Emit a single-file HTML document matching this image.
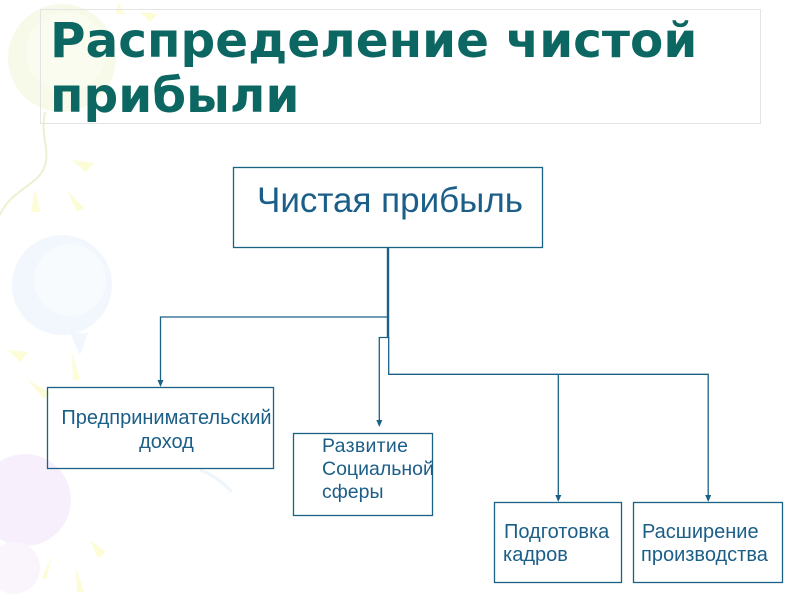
<!DOCTYPE html>
<html>
<head>
<meta charset="utf-8">
<style>
html,body{margin:0;padding:0;background:#fff;}
body{width:800px;height:600px;overflow:hidden;position:relative;}
svg{position:absolute;left:0;top:0;}
</style>
</head>
<body>
<svg width="800" height="600" viewBox="0 0 800 600" xmlns="http://www.w3.org/2000/svg">
  <!-- faint background decorations -->
  <g>
    <!-- yellow-green balloon -->
    <circle cx="62" cy="58" r="54" fill="#f7fae8"/>
    <circle cx="66" cy="52" r="40" fill="#fafcf0"/>
    <path d="M45 112 C40 135 50 150 45 165 C40 185 10 190 0 215" fill="none" stroke="#eaf2d0" stroke-width="2"/>
    <!-- blue balloon -->
    <circle cx="62" cy="285" r="50" fill="#f1f7fd"/>
    <circle cx="70" cy="280" r="36" fill="#f8fbfe"/>
    <path d="M70 333 L80 355 L88 333 Z" fill="#f1f7fd"/>
    <!-- purple balloon -->
    <circle cx="25" cy="500" r="46" fill="#f7f0fc"/>
    <circle cx="14" cy="568" r="26" fill="#faf5fd"/>
    <!-- yellow rays -->
    <polygon points="72,160 94,163 86,172" fill="#fcfcd6"/>
    <polygon points="35,188 40,212 31,212" fill="#fcfcd6"/>
    <polygon points="67,190 84,208 77,212" fill="#fcfcd6"/>
    <polygon points="8,350 28,352 20,362" fill="#fcfcd6"/>
    <polygon points="72,352 80,380 73,380" fill="#fcfcd6"/>
    <polygon points="28,380 50,393 44,399" fill="#fcfcd6"/>
    <polygon points="90,540 106,552 98,558" fill="#fcfcd6"/>
    <polygon points="52,555 46,580 42,578" fill="#fcfcd6"/>
    <polygon points="76,568 84,592 77,592" fill="#fcfcd6"/>
    <polygon points="118,2 125,14 116,14" fill="#fcfcd6"/>
    <polygon points="140,12 158,14 150,22" fill="#fcfcd6"/>
    <path d="M200 470 C215 475 225 485 232 492" fill="none" stroke="#eef5fb" stroke-width="3"/>
  </g>

  <!-- title box -->
  <rect x="40.5" y="9.5" width="720" height="114" fill="none" stroke="#e4e4e4" stroke-width="1"/>
  <text x="50" y="57" font-family="'DejaVu Sans', 'Liberation Sans', sans-serif" font-weight="bold" font-size="48.5" fill="#0c6661">Распределение чистой</text>
  <text x="50" y="112" font-family="'DejaVu Sans', 'Liberation Sans', sans-serif" font-weight="bold" font-size="48.5" fill="#0c6661">прибыли</text>

  <g fill="none" stroke="#1b6186" stroke-width="1.3">
    <!-- boxes -->
    <rect x="233.5" y="167.5" width="309" height="80"/>
    <rect x="47.5" y="387.5" width="226" height="81"/>
    <rect x="293.5" y="433.5" width="139" height="82"/>
    <rect x="494.5" y="502.5" width="127" height="80"/>
    <rect x="633.5" y="502.5" width="149" height="80"/>
    <!-- connectors -->
    <path d="M388 317 H160.5 V384"/>
    <path d="M388 337.5 H379.3 V424"/>
    <path d="M388.7 337 V374.3 H708.2 V497"/>
    <path d="M558.3 374.3 V497"/>
  </g>
  <line x1="388" y1="247" x2="388" y2="338" stroke="#1b6186" stroke-width="2.4"/>
  <g fill="#1b6186">
    <polygon points="157.5,380 163.5,380 160.5,387"/>
    <polygon points="376.3,420 382.3,420 379.3,427"/>
    <polygon points="555.3,495 561.3,495 558.3,502"/>
    <polygon points="705.2,495 711.2,495 708.2,502"/>
  </g>

  <g font-family="'Liberation Sans', Arial, sans-serif" fill="#1b5e88">
    <text x="257" y="212" font-size="35">Чистая прибыль</text>
    <text x="166.5" y="424" font-size="20" text-anchor="middle">Предпринимательский</text>
    <text x="166.5" y="448" font-size="20" text-anchor="middle">доход</text>
    <text x="322" y="452" font-size="19.5" letter-spacing="0.3">Развитие</text>
    <text x="322" y="475" font-size="19.5">Социальной</text>
    <text x="322" y="498" font-size="19.5">сферы</text>
    <text x="504" y="538" font-size="20">Подготовка</text>
    <text x="503" y="561" font-size="20">кадров</text>
    <text x="642" y="538" font-size="20">Расширение</text>
    <text x="641" y="561" font-size="20">производства</text>
  </g>
</svg>
</body>
</html>
